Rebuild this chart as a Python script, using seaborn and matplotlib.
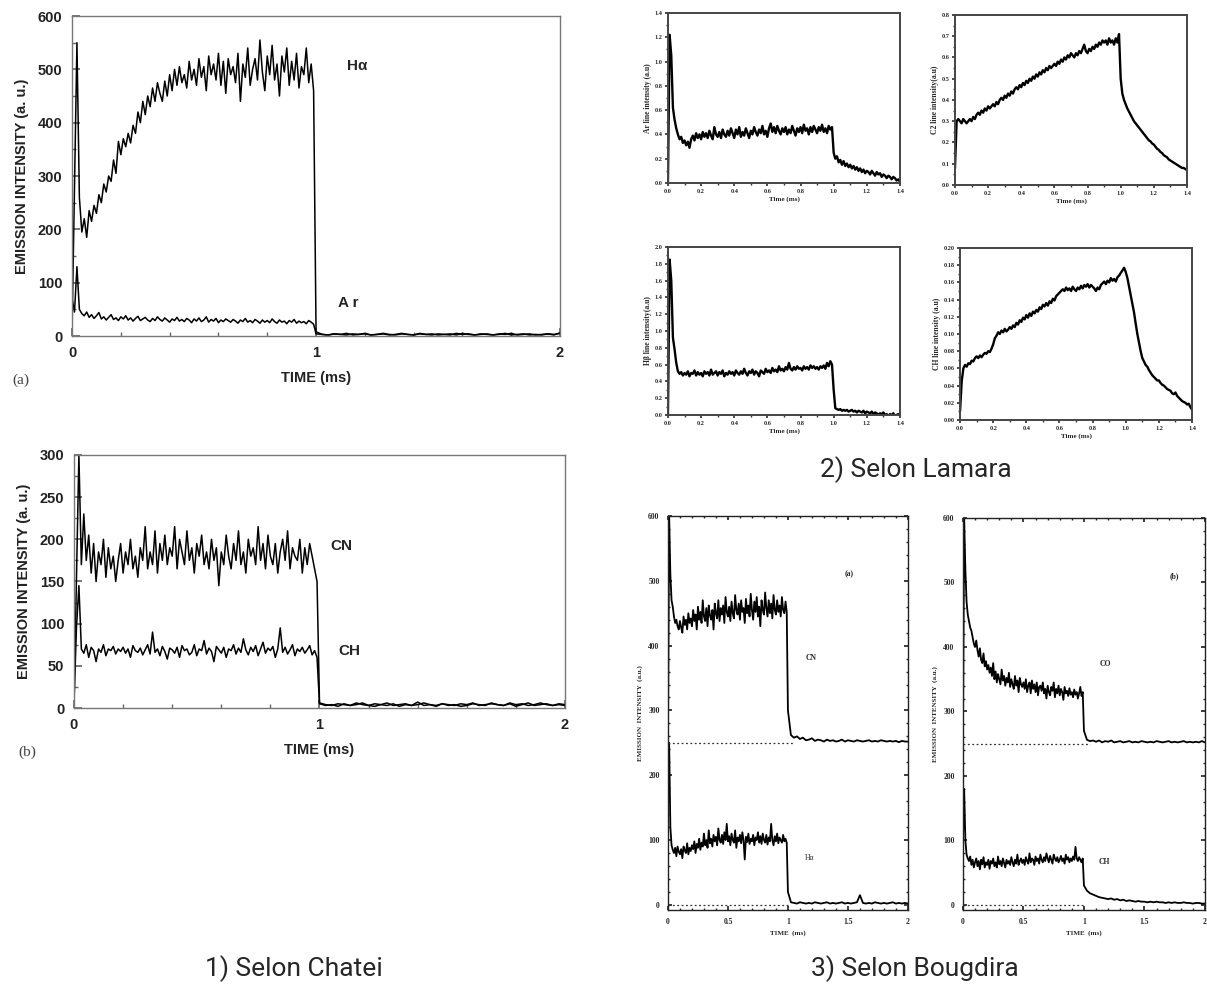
import numpy as np
import pandas as pd
import matplotlib
matplotlib.use('Agg')
import matplotlib.pyplot as plt
import seaborn as sns
from matplotlib.ticker import MultipleLocator, FormatStrFormatter, FuncFormatter

# sampling of the traces (ms): every 0.01 ms while the discharge is on,
# then every 0.025 ms (0-2 ms plots) or 0.01 ms (0-1.4 ms plots) after it stops
ON_STEP = 0.01
OFF_STEP_LONG = 0.025
OFF_STEP_SHORT = 0.01

# ---- 1) Chatei (a): H-alpha and Ar, a.u. ----
chatei_ha_on = [10, 280, 550, 260, 195, 220, 185, 235, 215, 245,
                230, 265, 250, 285, 270, 300, 290, 330, 305, 365,
                340, 370, 355, 380, 362, 395, 380, 420, 400, 440,
                415, 450, 430, 465, 440, 475, 455, 440, 478, 450,
                490, 460, 500, 470, 505, 475, 490, 465, 515, 480,
                500, 470, 520, 485, 505, 460, 525, 490, 510, 480,
                530, 470, 515, 455, 520, 490, 505, 475, 530, 440,
                510, 485, 540, 470, 500, 520, 480, 555, 495, 460,
                525, 490, 545, 480, 510, 450, 525, 495, 540, 470,
                515, 480, 530, 465, 505, 490, 540, 475, 510, 460]
chatei_ha_off = [8, 3, 2, 4, 3, 2, 4, 3, 5, 2, 3, 4, 2, 3, 5, 3, 2, 4, 3, 2,
                 4, 3, 2, 5, 3, 4, 2, 3, 4, 2, 3, 5, 2, 3, 4, 2, 3, 2, 4, 3, 5]
chatei_ar_on = [70, 45, 130, 50, 42, 38, 45, 35, 40, 33,
                38, 44, 32, 36, 30, 35, 40, 31, 34, 29,
                36, 32, 38, 30, 34, 28, 33, 37, 29, 32,
                35, 30, 27, 33, 29, 36, 31, 28, 34, 30,
                26, 32, 29, 35, 28, 31, 27, 33, 30, 25,
                32, 28, 34, 27, 30, 36, 26, 31, 28, 33,
                25, 30, 27, 32, 29, 26, 31, 28, 24, 30,
                27, 33, 26, 29, 25, 31, 28, 24, 30, 26,
                29, 25, 32, 27, 24, 30, 26, 28, 23, 29,
                26, 31, 24, 28, 25, 27, 23, 29, 26, 22]
chatei_ar_off = [4, 3, 2, 4, 3, 5, 2, 3, 4, 2, 3, 5, 3, 2, 4, 3, 2, 5, 3, 4,
                 2, 3, 4, 2, 5, 3, 2, 4, 3, 2, 4, 3, 5, 2, 3, 4, 2, 3, 4, 2, 6]

# ---- 1) Chatei (b): CN and CH, a.u. ----
chatei_cn_on = [5, 150, 300, 170, 230, 175, 205, 160, 195, 150,
                185, 170, 200, 155, 190, 165, 180, 150, 175, 195,
                160, 185, 170, 200, 165, 180, 155, 190, 175, 215,
                165, 185, 170, 210, 160, 195, 175, 205, 170, 190,
                180, 215, 165, 200, 185, 170, 210, 175, 190, 160,
                195, 180, 205, 170, 185, 165, 200, 175, 190, 145,
                185, 170, 205, 180, 165, 195, 175, 210, 170, 185,
                160, 200, 180, 190, 170, 215, 175, 195, 165, 205,
                180, 170, 195, 160, 185, 200, 175, 210, 165, 190,
                180, 175, 200, 160, 190, 170, 195, 180, 165, 150]
chatei_cn_off = [6, 4, 3, 5, 4, 3, 6, 4, 3, 5, 4, 6, 3, 4, 5, 3, 4, 6, 4, 3,
                 5, 4, 3, 5, 4, 6, 3, 4, 5, 4, 3, 6, 4, 5, 3, 4, 6, 4, 3, 5, 4]
chatei_ch_on = [5, 95, 145, 70, 65, 75, 60, 72, 68, 55,
                70, 66, 75, 62, 70, 68, 73, 64, 70, 67,
                72, 65, 70, 60, 74, 68, 66, 71, 63, 69,
                75, 64, 90, 66, 70, 62, 73, 67, 58, 71,
                69, 65, 72, 60, 74, 68, 70, 63, 66, 75,
                62, 70, 68, 80, 64, 71, 67, 55, 73, 69,
                65, 72, 60, 70, 68, 75, 64, 71, 66, 82,
                69, 63, 72, 67, 74, 62, 70, 78, 65, 71,
                68, 73, 60, 70, 95, 66, 72, 64, 69, 75,
                62, 70, 67, 72, 65, 69, 74, 63, 68, 60]
chatei_ch_off = [5, 3, 4, 2, 5, 3, 4, 6, 3, 2, 4, 3, 5, 2, 4, 3, 7, 3, 4, 2,
                 5, 3, 4, 2, 3, 5, 4, 3, 6, 4, 3, 5, 2, 4, 6, 3, 4, 5, 3, 4, 3]

# ---- 2) Lamara: line intensities (a.u), 0-1.4 ms ----
lamara_ar_on = [0.00, 1.22, 1.05, 0.62, 0.52, 0.45, 0.40, 0.36, 0.38, 0.33,
                0.35, 0.31, 0.34, 0.29, 0.36, 0.39, 0.35, 0.41, 0.37, 0.40,
                0.36, 0.42, 0.38, 0.41, 0.37, 0.43, 0.39, 0.36, 0.46, 0.40,
                0.38, 0.42, 0.37, 0.44, 0.40, 0.38, 0.43, 0.39, 0.45, 0.41,
                0.37, 0.44, 0.40, 0.46, 0.38, 0.42, 0.39, 0.45, 0.41, 0.37,
                0.43, 0.40, 0.46, 0.42, 0.39, 0.44, 0.41, 0.47, 0.40, 0.43,
                0.38, 0.45, 0.49, 0.42, 0.46, 0.41, 0.47, 0.43, 0.40, 0.45,
                0.42, 0.46, 0.40, 0.44, 0.41, 0.47, 0.43, 0.39, 0.45, 0.42,
                0.46, 0.41, 0.48, 0.43, 0.45, 0.40, 0.46, 0.42, 0.47, 0.44,
                0.41, 0.46, 0.43, 0.48, 0.42, 0.45, 0.41, 0.47, 0.44, 0.46]
lamara_ar_off = [0.25, 0.20, 0.22, 0.17, 0.19, 0.15, 0.18, 0.14, 0.16, 0.13,
                 0.15, 0.12, 0.14, 0.11, 0.13, 0.10, 0.12, 0.09, 0.11, 0.08,
                 0.10, 0.09, 0.07, 0.10, 0.08, 0.06, 0.09, 0.07, 0.08, 0.05,
                 0.07, 0.06, 0.04, 0.06, 0.05, 0.03, 0.05, 0.04, 0.02, 0.03, 0.01]
lamara_c2_on = [0.08, 0.30, 0.31, 0.30, 0.29, 0.31, 0.30, 0.29, 0.30, 0.31,
                0.30, 0.32, 0.31, 0.33, 0.34, 0.33, 0.35, 0.34, 0.36, 0.35,
                0.37, 0.36, 0.37, 0.38, 0.37, 0.39, 0.38, 0.40, 0.41, 0.40,
                0.42, 0.41, 0.43, 0.42, 0.44, 0.43, 0.45, 0.46, 0.45, 0.47,
                0.46, 0.48, 0.47, 0.49, 0.48, 0.50, 0.49, 0.51, 0.50, 0.52,
                0.51, 0.53, 0.52, 0.54, 0.53, 0.55, 0.54, 0.56, 0.55, 0.56,
                0.57, 0.56, 0.58, 0.57, 0.59, 0.58, 0.60, 0.59, 0.61, 0.60,
                0.62, 0.61, 0.60, 0.62, 0.61, 0.63, 0.62, 0.64, 0.66, 0.63,
                0.62, 0.64, 0.63, 0.65, 0.64, 0.66, 0.65, 0.67, 0.66, 0.68,
                0.67, 0.68, 0.66, 0.69, 0.67, 0.68, 0.66, 0.69, 0.67, 0.71]
lamara_c2_off = [0.50, 0.43, 0.40, 0.38, 0.36, 0.345, 0.33, 0.315, 0.30, 0.29,
                 0.28, 0.27, 0.26, 0.25, 0.24, 0.23, 0.22, 0.21, 0.205, 0.195,
                 0.19, 0.18, 0.17, 0.165, 0.155, 0.15, 0.14, 0.135, 0.13, 0.12,
                 0.115, 0.11, 0.105, 0.10, 0.095, 0.09, 0.085, 0.08, 0.08, 0.075, 0.07]
lamara_hb_on = [0.00, 1.85, 1.60, 0.92, 0.78, 0.62, 0.52, 0.49, 0.51, 0.47,
                0.50, 0.48, 0.52, 0.46, 0.50, 0.49, 0.53, 0.47, 0.51, 0.48,
                0.50, 0.46, 0.52, 0.49, 0.51, 0.47, 0.54, 0.48, 0.50, 0.52,
                0.47, 0.51, 0.49, 0.53, 0.46, 0.50, 0.48, 0.52, 0.49, 0.51,
                0.47, 0.53, 0.50, 0.48, 0.52, 0.49, 0.55, 0.50, 0.47, 0.52,
                0.50, 0.54, 0.48, 0.52, 0.50, 0.46, 0.53, 0.51, 0.49, 0.55,
                0.51, 0.53, 0.50, 0.56, 0.52, 0.54, 0.51, 0.58, 0.53, 0.55,
                0.52, 0.57, 0.54, 0.62, 0.55, 0.53, 0.57, 0.54, 0.58, 0.55,
                0.56, 0.53, 0.58, 0.55, 0.57, 0.54, 0.59, 0.56, 0.58, 0.55,
                0.57, 0.54, 0.58, 0.56, 0.59, 0.55, 0.62, 0.58, 0.64, 0.60]
lamara_hb_off = [0.30, 0.08, 0.07, 0.06, 0.07, 0.05, 0.06, 0.05, 0.06, 0.04,
                 0.05, 0.06, 0.04, 0.05, 0.03, 0.05, 0.04, 0.03, 0.05, 0.02,
                 0.04, 0.03, 0.02, 0.04, 0.01, 0.03, 0.02, 0.00, 0.02, 0.01,
                 0.03, 0.00, 0.01, -0.01, 0.01, 0.00, 0.02, -0.01, 0.00, 0.01, 0.00]
lamara_ch_on = [0.010, 0.045, 0.060, 0.064, 0.062, 0.066, 0.065, 0.069, 0.068, 0.072,
                0.074, 0.072, 0.075, 0.073, 0.076, 0.078, 0.077, 0.080, 0.079, 0.083,
                0.088, 0.095, 0.098, 0.102, 0.100, 0.104, 0.102, 0.106, 0.103, 0.105,
                0.108, 0.106, 0.110, 0.108, 0.113, 0.111, 0.116, 0.114, 0.119, 0.117,
                0.122, 0.119, 0.124, 0.121, 0.126, 0.124, 0.128, 0.126, 0.131, 0.129,
                0.134, 0.132, 0.136, 0.133, 0.138, 0.136, 0.141, 0.139, 0.144, 0.146,
                0.148, 0.150, 0.152, 0.150, 0.154, 0.151, 0.153, 0.150, 0.155, 0.152,
                0.150, 0.154, 0.152, 0.156, 0.153, 0.157, 0.155, 0.158, 0.154, 0.157,
                0.155, 0.153, 0.150, 0.154, 0.152, 0.157, 0.159, 0.161, 0.158, 0.162,
                0.160, 0.165, 0.162, 0.164, 0.161, 0.166, 0.168, 0.171, 0.174, 0.177]
lamara_ch_off = [0.172, 0.165, 0.155, 0.145, 0.135, 0.125, 0.112, 0.100, 0.090, 0.080,
                 0.072, 0.068, 0.064, 0.062, 0.058, 0.055, 0.052, 0.050, 0.048, 0.046,
                 0.046, 0.043, 0.041, 0.040, 0.038, 0.036, 0.035, 0.034, 0.031, 0.030,
                 0.032, 0.028, 0.026, 0.024, 0.022, 0.021, 0.020, 0.018, 0.019, 0.015, 0.012]

# ---- 3) Bougdira (a) CN (+250 offset) and H-alpha, (b) CO (+250 offset) and CH ----
bougdira_cn_on = [250, 600, 510, 470, 460, 445, 435, 440, 430, 425,
                  438, 428, 420, 445, 432, 440, 425, 450, 435, 442,
                  430, 455, 438, 448, 425, 460, 440, 452, 435, 470,
                  445, 438, 458, 430, 462, 447, 440, 455, 425, 465,
                  450, 442, 470, 438, 458, 448, 462, 435, 475, 452,
                  445, 460, 438, 468, 450, 442, 478, 455, 448, 465,
                  440, 470, 452, 458, 435, 472, 450, 462, 445, 480,
                  455, 440, 468, 452, 475, 445, 460, 430, 470, 455,
                  448, 482, 458, 445, 470, 450, 465, 442, 478, 455,
                  448, 470, 452, 462, 445, 475, 455, 450, 468, 452]
bougdira_cn_off = [300, 262, 258, 260, 256, 258, 254, 255, 257, 253,
                   255, 254, 252, 255, 253, 254, 252, 253, 255, 252,
                   254, 253, 252, 254, 253, 252, 253, 254, 252, 253,
                   252, 254, 253, 252, 253, 252, 253, 251, 253, 252, 252]
bougdira_ha_on = [150, 250, 120, 92, 85, 80, 88, 75, 90, 82,
                  78, 86, 72, 90, 84, 80, 95, 78, 88, 83,
                  92, 86, 98, 80, 94, 88, 102, 85, 96, 90,
                  110, 92, 100, 88, 115, 95, 102, 90, 108, 98,
                  105, 92, 118, 100, 96, 108, 94, 112, 100, 125,
                  98, 106, 92, 110, 100, 96, 115, 88, 104, 98,
                  108, 95, 112, 100, 70, 105, 97, 110, 94, 102,
                  98, 108, 92, 104, 100, 112, 96, 106, 94, 110,
                  100, 96, 108, 93, 104, 98, 125, 100, 92, 106,
                  98, 110, 95, 104, 100, 96, 108, 98, 102, 96]
bougdira_ha_off = [20, 4, 3, 2, 4, 3, 2, 3, 2, 4, 3, 2, 3, 4, 2, 3, 2, 3, 4, 2,
                   3, 2, 3, 4, 15, 3, 2, 3, 2, 4, 3, 2, 3, 2, 3, 4, 2, 3, 2, 3, 2]
bougdira_co_on = [250, 600, 520, 470, 450, 440, 430, 425, 415, 405,
                  400, 410, 395, 385, 398, 380, 375, 390, 370, 378,
                  365, 372, 360, 368, 355, 375, 350, 362, 345, 358,
                  350, 342, 365, 348, 355, 340, 352, 345, 360, 338,
                  350, 342, 335, 355, 340, 348, 330, 352, 342, 338,
                  345, 335, 350, 330, 340, 345, 328, 348, 335, 342,
                  330, 345, 325, 338, 340, 332, 345, 328, 335, 320,
                  340, 330, 325, 338, 332, 345, 322, 335, 328, 340,
                  325, 335, 330, 318, 338, 328, 332, 324, 336, 326,
                  330, 322, 334, 326, 330, 320, 328, 338, 324, 330]
bougdira_co_off = [270, 256, 254, 255, 253, 255, 252, 254, 253, 255,
                   252, 253, 254, 252, 253, 254, 252, 253, 252, 254,
                   253, 252, 253, 252, 254, 253, 252, 253, 254, 252,
                   253, 252, 253, 254, 252, 253, 252, 253, 252, 254, 252]
bougdira_ch_on = [100, 180, 100, 78, 72, 68, 75, 62, 70, 58,
                  66, 72, 60, 68, 55, 70, 63, 74, 58, 66,
                  62, 70, 56, 68, 64, 72, 60, 66, 58, 75,
                  63, 68, 60, 72, 65, 58, 70, 64, 68, 62,
                  74, 66, 60, 70, 64, 78, 62, 68, 72, 65,
                  70, 62, 74, 68, 64, 80, 66, 72, 70, 62,
                  75, 68, 72, 64, 78, 70, 66, 74, 68, 80,
                  72, 66, 76, 70, 64, 78, 72, 68, 74, 66,
                  70, 76, 68, 72, 64, 78, 70, 74, 66, 72,
                  68, 75, 70, 90, 72, 68, 74, 70, 66, 72]
bougdira_ch_off = [30, 22, 18, 16, 14, 12, 11, 10, 9, 10, 8, 9, 7, 8, 6, 7, 6, 5, 6, 5,
                   5, 4, 5, 4, 5, 4, 4, 3, 4, 3, 4, 3, 3, 4, 3, 3, 2, 3, 3, 2, 2]
bougdira_baselines = [250, 0]
bougdira_baseline_ends = [1.05, 1.0]


def trace(ax, on, off, off_step, lw):
    t = np.round(np.r_[np.arange(len(on)) * ON_STEP, 1.0 + np.arange(len(off)) * off_step], 4)
    df = pd.DataFrame({'t': t, 'v': list(on) + list(off)})
    sns.lineplot(data=df, x='t', y='v', ax=ax, color='black', lw=lw,
                 estimator=None, sort=False)


def style_chatei(ax, ymax, ystep):
    ax.set_xlim(0, 2)
    ax.set_ylim(0, ymax)
    ax.xaxis.set_major_locator(MultipleLocator(1))
    ax.xaxis.set_minor_locator(MultipleLocator(0.2))
    ax.yaxis.set_major_locator(MultipleLocator(ystep))
    ax.yaxis.set_minor_locator(MultipleLocator(ystep / 2))
    ax.tick_params(which='both', direction='in', top=False, right=False,
                   labelsize=10.5, color='#666')
    ax.tick_params(which='major', length=6, pad=7)
    ax.tick_params(which='minor', length=3)
    for lab in ax.get_xticklabels() + ax.get_yticklabels():
        lab.set_fontweight('bold')
        lab.set_color('#222')
    for s in ax.spines.values():
        s.set_color('#777')
        s.set_linewidth(1.0)
    ax.set_xlabel('TIME (ms)', fontsize=10.5, fontweight='bold', labelpad=8, color='#222')
    ax.set_ylabel('EMISSION INTENSITY (a. u.)', fontsize=10.5, fontweight='bold',
                  labelpad=6, color='#222')


def style_lamara(ax, ymax, ystep, fmt, ylabel):
    ax.set_xlim(0, 1.4)
    ax.set_ylim(0, ymax)
    ax.xaxis.set_major_locator(MultipleLocator(0.2))
    ax.xaxis.set_minor_locator(MultipleLocator(0.1))
    ax.yaxis.set_major_locator(MultipleLocator(ystep))
    ax.yaxis.set_minor_locator(MultipleLocator(ystep / 2))
    ax.xaxis.set_major_formatter(FormatStrFormatter('%.1f'))
    ax.yaxis.set_major_formatter(FormatStrFormatter(fmt))
    ax.tick_params(which='both', direction='out', top=False, right=False,
                   labelsize=4.5, pad=1.5, color='#333')
    ax.tick_params(which='major', length=2.5)
    ax.tick_params(which='minor', length=1.5)
    for lab in ax.get_xticklabels() + ax.get_yticklabels():
        lab.set_fontweight('bold')
    for s in ax.spines.values():
        s.set_color('#444')
        s.set_linewidth(1.4)
    ax.set_xlabel('Time (ms)', fontsize=5, fontweight='bold', labelpad=2)
    ax.set_ylabel(ylabel, fontsize=5.5, fontweight='bold', labelpad=2)


def style_bougdira(ax, tag):
    ax.set_xlim(0, 2)
    ax.set_ylim(-8, 600)
    ax.xaxis.set_major_locator(MultipleLocator(0.5))
    ax.xaxis.set_minor_locator(MultipleLocator(0.1))
    ax.yaxis.set_major_locator(MultipleLocator(100))
    ax.yaxis.set_minor_locator(MultipleLocator(20))
    ax.xaxis.set_major_formatter(FuncFormatter(lambda v, p: '%g' % v))
    ax.tick_params(which='both', direction='in', top=True, right=True,
                   labelsize=5.5, pad=6)
    ax.tick_params(which='major', length=3)
    ax.tick_params(which='minor', length=1.5)
    for lab in ax.get_xticklabels() + ax.get_yticklabels():
        lab.set_fontweight('bold')
    for s in ax.spines.values():
        s.set_color('#222')
        s.set_linewidth(1.0)
    ax.set_xlabel('TIME  (ms)', fontsize=5, fontweight='bold', labelpad=3)
    ax.set_ylabel('EMISSION  INTENSITY  (a.u.)', fontsize=5, fontweight='bold', labelpad=4)
    ax.text(1.51 if tag == '(a)' else 1.75, 510, tag, fontsize=5.5, fontweight='bold',
            ha='center', va='center')
    for yb, xe in zip(bougdira_baselines, bougdira_baseline_ends):
        ax.plot([0, xe], [yb, yb], ls=(0, (1.5, 2)), color='#333', lw=0.9)


sns.set_theme(style='ticks')
plt.rcParams['font.family'] = ['Liberation Sans', 'DejaVu Sans']
plt.rcParams['axes.facecolor'] = 'white'

fig = plt.figure(figsize=(12.07, 9.88), dpi=100)

# ---- 1) Chatei ----
ax1a = fig.add_axes([0.0597, 0.6599, 0.4043, 0.3239])
trace(ax1a, chatei_ha_on, chatei_ha_off, OFF_STEP_LONG, 1.1)
trace(ax1a, chatei_ar_on, chatei_ar_off, OFF_STEP_LONG, 1.1)
style_chatei(ax1a, 600, 100)
ax1a.text(1.17, 506, 'H\u03b1', fontsize=11, fontweight='bold', ha='center', va='center')
ax1a.text(1.13, 62, 'A r', fontsize=11, fontweight='bold', ha='center', va='center')

ax1b = fig.add_axes([0.0613, 0.2834, 0.4068, 0.2561])
trace(ax1b, chatei_cn_on, chatei_cn_off, OFF_STEP_LONG, 1.1)
trace(ax1b, chatei_ch_on, chatei_ch_off, OFF_STEP_LONG, 1.1)
style_chatei(ax1b, 300, 50)
ax1b.text(1.09, 192, 'CN', fontsize=11, fontweight='bold', ha='center', va='center')
ax1b.text(1.12, 68, 'CH', fontsize=11, fontweight='bold', ha='center', va='center')

fig.text(0.010, 0.615, '(a)', fontsize=11, family=['Liberation Serif', 'DejaVu Serif'],
         color='#444', va='center')
fig.text(0.015, 0.239, '(b)', fontsize=11, family=['Liberation Serif', 'DejaVu Serif'],
         color='#444', va='center')

# ---- 2) Lamara ----
plt.rcParams['font.family'] = ['Liberation Serif', 'DejaVu Serif']
ax2a = fig.add_axes([0.5534, 0.8148, 0.1922, 0.1721])
trace(ax2a, lamara_ar_on, lamara_ar_off, OFF_STEP_SHORT, 1.7)
style_lamara(ax2a, 1.4, 0.2, '%.1f', 'Ar line intensity (a.u)')

ax2b = fig.add_axes([0.7912, 0.8128, 0.1922, 0.1721])
trace(ax2b, lamara_c2_on, lamara_c2_off, OFF_STEP_SHORT, 1.7)
style_lamara(ax2b, 0.8, 0.1, '%.1f', 'C2 line intensity(a.u)')

ax2c = fig.add_axes([0.5534, 0.5800, 0.1922, 0.1700])
trace(ax2c, lamara_hb_on, lamara_hb_off, OFF_STEP_SHORT, 1.7)
style_lamara(ax2c, 2.0, 0.2, '%.1f', 'H\u03b2 line intensity(a.u)')

ax2d = fig.add_axes([0.7954, 0.5749, 0.1922, 0.1741])
trace(ax2d, lamara_ch_on, lamara_ch_off, OFF_STEP_SHORT, 1.7)
style_lamara(ax2d, 0.20, 0.02, '%.2f', 'CH line intensity (a.u)')

# ---- 3) Bougdira ----
ax3a = fig.add_axes([0.5534, 0.0789, 0.1988, 0.3988])
trace(ax3a, bougdira_cn_on, bougdira_cn_off, OFF_STEP_LONG, 1.3)
trace(ax3a, bougdira_ha_on, bougdira_ha_off, OFF_STEP_LONG, 1.3)
style_bougdira(ax3a, '(a)')
ax3a.text(1.19, 381, 'CN', fontsize=5.5, fontweight='bold', ha='center', va='center')
ax3a.text(1.18, 72, 'H\u03b1', fontsize=5.5, ha='center', va='center')

ax3b = fig.add_axes([0.7978, 0.0789, 0.2005, 0.3968])
trace(ax3b, bougdira_co_on, bougdira_co_off, OFF_STEP_LONG, 1.3)
trace(ax3b, bougdira_ch_on, bougdira_ch_off, OFF_STEP_LONG, 1.3)
style_bougdira(ax3b, '(b)')
ax3b.text(1.18, 374, 'CO', fontsize=5.5, fontweight='bold', ha='center', va='center')
ax3b.text(1.17, 66, 'CH', fontsize=5.5, fontweight='bold', ha='center', va='center')

# ---- captions ----
cap = dict(fontsize=19, family=['Roboto', 'DejaVu Sans'], ha='center', va='center')
fig.text(0.2436, 0.020, '1) Selon Chatei', **cap)
fig.text(0.7590, 0.525, '2) Selon Lamara', **cap)
fig.text(0.7580, 0.020, '3) Selon Bougdira', **cap)

fig.savefig('out.png', dpi=100)
plt.close(fig)
